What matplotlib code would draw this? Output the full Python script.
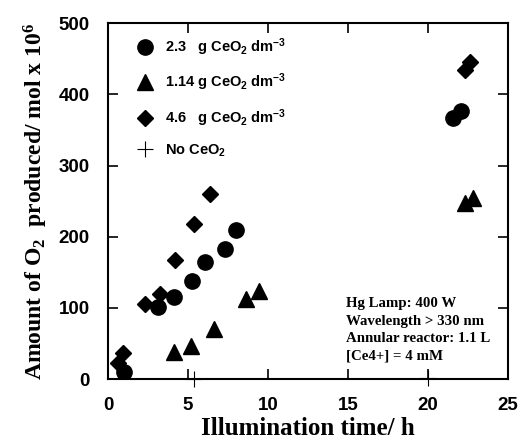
import matplotlib
matplotlib.use("Agg")
from matplotlib import pyplot as plt

# O2 evolution vs illumination time for different CeO2 loadings
t_23 = [1.0, 3.1, 4.15, 5.25, 6.05, 7.3, 8.0, 21.55, 22.05]
o2_23 = [10, 101, 115, 138, 164, 183, 210, 367, 376]

t_114 = [4.1, 5.2, 6.6, 8.6, 9.45, 22.3, 22.8]
o2_114 = [38, 47, 71, 112, 124, 247, 255]

t_46 = [0.65, 0.95, 2.3, 3.25, 4.2, 5.35, 6.4, 22.3, 22.65]
o2_46 = [23, 37, 105, 120, 168, 218, 260, 434, 446]

t_none = [5.4, 20.0]
o2_none = [0, 2]

labels = [r"2.3   g CeO$_2$ dm$^{-3}$",
          r"1.14 g CeO$_2$ dm$^{-3}$",
          r"4.6   g CeO$_2$ dm$^{-3}$",
          r"No CeO$_2$"]

conditions = "Hg Lamp: 400 W\nWavelength > 330 nm\nAnnular reactor: 1.1 L\n[Ce4+] = 4 mM"

plt.rcParams["font.family"] = "Liberation Sans"
plt.rcParams["font.weight"] = "bold"
plt.rcParams["mathtext.default"] = "regular"

fig = plt.figure(figsize=(5.23, 4.46), dpi=100)
ax = fig.add_axes([0.2065, 0.150, 0.7648, 0.798])

ax.plot(t_23, o2_23, "o", color="black", markersize=11, label=labels[0])
ax.plot(t_114, o2_114, "^", color="black", markersize=11, label=labels[1])
ax.plot(t_46, o2_46, "D", color="black", markersize=8.5, label=labels[2])
ax.plot(t_none, o2_none, "+", color="black", markersize=12, markeredgewidth=0.8,
        label=labels[3], clip_on=False)

ax.set_xlim(0, 25)
ax.set_ylim(0, 500)
ax.set_xticks([0, 5, 10, 15, 20, 25])
ax.set_yticks([0, 100, 200, 300, 400, 500])

for s in ax.spines.values():
    s.set_linewidth(1.5)
ax.tick_params(direction="in", length=7, width=1.2, top=True, right=True,
               labelsize=13.5, pad=13)

ax.set_xlabel("Illumination time/ h", family="Liberation Serif", weight="bold",
              fontsize=18, labelpad=2)
ax.set_ylabel(r"Amount of O$_2$  produced/ mol x 10$^6$", family="Liberation Serif",
              weight="bold", fontsize=17, labelpad=6)

ax.legend(loc="upper left", bbox_to_anchor=(0.055, 0.98), frameon=False,
          fontsize=10.5, labelspacing=0.95, handletextpad=0.8, handlelength=1.2,
          borderaxespad=0)

ax.text(14.9, 115, conditions, family="Liberation Serif", weight="bold",
        fontsize=10.7, va="top", ha="left", linespacing=1.45)

fig.savefig("out.png", dpi=100)
